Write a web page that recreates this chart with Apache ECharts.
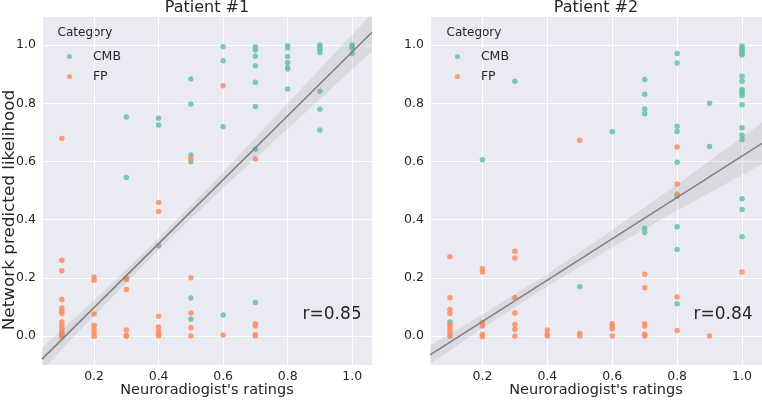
<!DOCTYPE html>
<html>
<head>
<meta charset="utf-8">
<script src="https://cdn.jsdelivr.net/npm/echarts@6/dist/echarts.min.js"></script>
<style>html,body{margin:0;padding:0;background:#fff;}#c{width:762px;height:400px;}</style>
</head>
<body>
<div id="c"></div>
<script>
// ---------- data ----------
const categories = ['CMB', 'FP'];
const panelTitles = ['Patient #1', 'Patient #2'];
const rLabels = ['r=0.85', 'r=0.84'];
const xLabel = "Neuroradiogist's ratings";
const yLabel = 'Network predicted likelihood';

const cmb1 = [
  [0.3,0.753],[0.3,0.545],
  [0.4,0.748],[0.4,0.725],[0.4,0.31],
  [0.5,0.883],[0.5,0.797],[0.5,0.622],[0.5,0.599],[0.5,0.13],[0.5,0.057],
  [0.6,0.994],[0.6,0.946],[0.6,0.719],[0.6,0.072],
  [0.7,0.994],[0.7,0.983],[0.7,0.962],[0.7,0.929],[0.7,0.872],[0.7,0.789],[0.7,0.642],[0.7,0.115],
  [0.8,0.998],[0.8,0.99],[0.8,0.961],[0.8,0.94],[0.8,0.923],[0.8,0.918],[0.8,0.849],
  [0.9,1.0],[0.9,0.994],[0.9,0.986],[0.9,0.974],[0.9,0.841],[0.9,0.779],[0.9,0.708],
  [1.0,1.0],[1.0,0.994],[1.0,0.989],[1.0,0.971]
];
const fp1 = [
  [0.1,0.679],[0.1,0.26],[0.1,0.224],[0.1,0.125],[0.1,0.096],[0.1,0.086],[0.1,0.077],[0.1,0.048],
  [0.1,0.037],[0.1,0.025],[0.1,0.014],[0.1,0.008],[0.1,0.002],[0.1,-0.003],
  [0.2,0.203],[0.2,0.191],[0.2,0.075],[0.2,0.037],[0.2,0.023],[0.2,0.01],[0.2,-0.001],
  [0.3,0.2],[0.3,0.194],[0.3,0.16],[0.3,0.02],[0.3,0.002],[0.3,-0.001],
  [0.4,0.459],[0.4,0.428],[0.4,0.068],[0.4,0.031],[0.4,0.017],[0.4,0.006],[0.4,0.0],
  [0.5,0.61],[0.5,0.2],[0.5,0.079],[0.5,0.028],[0.5,0.0],
  [0.6,0.86],[0.6,0.003],
  [0.7,0.608],[0.7,0.042],[0.7,0.034],[0.7,0.005],[0.7,0.0]
];
const cmb2 = [
  [0.1,0.048],
  [0.2,0.606],
  [0.3,0.876],
  [0.5,0.169],
  [0.6,0.702],
  [0.7,0.882],[0.7,0.831],[0.7,0.78],[0.7,0.764],[0.7,0.369],[0.7,0.356],
  [0.8,0.971],[0.8,0.938],[0.8,0.721],[0.8,0.703],[0.8,0.597],[0.8,0.48],[0.8,0.375],[0.8,0.297],[0.8,0.111],
  [0.9,0.80],[0.9,0.651],
  [1.0,0.997],[1.0,0.989],[1.0,0.983],[1.0,0.977],[1.0,0.971],[1.0,0.966],[1.0,0.893],[1.0,0.876],
  [1.0,0.847],[1.0,0.842],[1.0,0.834],[1.0,0.826],[1.0,0.795],[1.0,0.716],[1.0,0.69],[1.0,0.675],
  [1.0,0.472],[1.0,0.435],[1.0,0.341]
];
const fp2 = [
  [0.1,0.272],[0.1,0.131],[0.1,0.091],[0.1,0.077],[0.1,0.04],[0.1,0.031],[0.1,0.02],[0.1,0.01],[0.1,-0.001],
  [0.2,0.232],[0.2,0.22],[0.2,0.046],[0.2,0.034],[0.2,0.006],[0.2,-0.003],
  [0.3,0.291],[0.3,0.268],[0.3,0.131],[0.3,0.079],[0.3,0.039],[0.3,0.023],[0.3,-0.001],
  [0.4,0.02],[0.4,0.006],[0.4,0.0],
  [0.5,0.673],[0.5,0.008],[0.5,0.0],
  [0.6,0.042],[0.6,0.034],[0.6,0.025],[0.6,0.0],
  [0.7,0.212],[0.7,0.166],[0.7,0.042],[0.7,0.034],[0.7,0.006],[0.7,0.0],
  [0.8,0.65],[0.8,0.522],[0.8,0.487],[0.8,0.134],[0.8,0.019],
  [0.9,0.0],
  [1.0,0.22]
];
// regression lines and confidence bands [x, lower, upper]
const reg1 = [[0.0385,-0.08],[1.0615,1.044]];
const band1 = [[0.0385,-0.119,-0.041],[0.2,0.069,0.123],[0.4,0.296,0.336],[0.6,0.509,0.563],[0.8,0.712,0.80],[1.0,0.916,1.036],[1.0615,0.979,1.109]];
const reg2 = [[0.0385,-0.065],[1.0615,0.662]];
const band2 = [[0.0385,-0.097,-0.033],[0.2,0.026,0.074],[0.4,0.171,0.213],[0.6,0.304,0.364],[0.8,0.431,0.521],[1.0,0.553,0.683],[1.0615,0.590,0.734]];

const xRange = [0.0385, 1.0615];
const yRange = [-0.1, 1.1];

// ---------- style ----------
const FONT = 'DejaVu Sans';
const TXT = '#262626';
const C_CMB = '#66c2a5';
const C_FP = '#fc8d62';
const grids = [
  {left: 42, width: 330, top: 16, height: 349},
  {left: 430, width: 332, top: 16, height: 349}
];

function xAxis(i) {
  return {
    type: 'value', gridIndex: i, min: xRange[0], max: xRange[1], splitNumber: 5,
    axisLine: {show: false}, axisTick: {show: false},
    axisLabel: {color: TXT, fontFamily: FONT, fontSize: 12.5, margin: 5, showMinLabel: false, showMaxLabel: false,
      formatter: v => v.toFixed(1)},
    splitLine: {show: true, lineStyle: {color: '#ffffff', width: 1}},
    name: xLabel, nameLocation: 'middle', nameGap: 17, nameMoveOverlap: false,
    nameTextStyle: {color: TXT, fontFamily: FONT, fontSize: 14.5, verticalAlign: 'top', lineHeight: 16}
  };
}
function yAxis(i) {
  return {
    type: 'value', gridIndex: i, min: yRange[0], max: yRange[1], splitNumber: 5,
    axisLine: {show: false}, axisTick: {show: false},
    axisLabel: {color: TXT, fontFamily: FONT, fontSize: 12.5, margin: 6, showMinLabel: false, showMaxLabel: false,
      formatter: v => v.toFixed(1)},
    splitLine: {show: true, lineStyle: {color: '#ffffff', width: 1}}
  };
}
function scatter(name, data, i, color) {
  return {
    type: 'scatter', name: name, xAxisIndex: i, yAxisIndex: i, data: data,
    symbolSize: 5.5, itemStyle: {color: color, opacity: 0.85}, z: 2, silent: true
  };
}
function bandSeries(band, i) {
  return {
    type: 'custom', xAxisIndex: i, yAxisIndex: i, data: band, clip: true, z: 3, silent: true,
    renderItem: function (params, api) {
      if (params.dataIndex !== 0) return null;
      const pts = [];
      for (let k = 0; k < band.length; k++) pts.push(api.coord([band[k][0], band[k][2]]));
      for (let k = band.length - 1; k >= 0; k--) pts.push(api.coord([band[k][0], band[k][1]]));
      return {type: 'polygon', shape: {points: pts}, style: {fill: 'rgba(128,128,128,0.16)'}};
    }
  };
}
function regSeries(reg, i) {
  return {
    type: 'line', xAxisIndex: i, yAxisIndex: i, data: reg, showSymbol: false, clip: true, z: 4, silent: true,
    lineStyle: {color: '#808080', width: 1.6}
  };
}
function legend(left) {
  return {
    data: categories, left: left, top: 45, orient: 'vertical', icon: 'circle',
    itemWidth: 5, itemHeight: 5, itemGap: 7,
    formatter: n => '\u00a0\u00a0\u00a0\u00a0' + n,
    textStyle: {color: TXT, fontFamily: FONT, fontSize: 12.5}
  };
}
function text(x, y, s, size, extra) {
  return Object.assign({type: 'text', x: x, y: y, silent: true,
    style: {text: s, fill: TXT, font: size + 'px "' + FONT + '"', textAlign: 'center', textVerticalAlign: 'middle'}}, extra || {});
}

const option = {
  animation: false,
  backgroundColor: '#ffffff',
  grid: grids.map(g => Object.assign({show: true, backgroundColor: '#EAEAF2', borderWidth: 0, containLabel: false, outerBoundsMode: 'none'}, g)),
  xAxis: [xAxis(0), xAxis(1)],
  yAxis: [yAxis(0), yAxis(1)],
  legend: [legend(62), legend(450)],
  series: [
    scatter(categories[0], cmb1, 0, C_CMB), scatter(categories[1], fp1, 0, C_FP),
    scatter(categories[0], cmb2, 1, C_CMB), scatter(categories[1], fp2, 1, C_FP),
    bandSeries(band1, 0), regSeries(reg1, 0),
    bandSeries(band2, 1), regSeries(reg2, 1)
  ],
  graphic: [
    text(207, 8, panelTitles[0], 16),
    text(596, 8, panelTitles[1], 16),
    text(85, 33, 'Category', 12),
    text(474, 33, 'Category', 12),
    text(332, 315, rLabels[0], 17),
    text(723, 315, rLabels[1], 17),
    Object.assign(text(10, 210, yLabel, 15), {rotation: Math.PI / 2, scaleX: 1.12})
  ]
};
const chart = echarts.init(document.getElementById('c'), null, {renderer: 'canvas'});
chart.setOption(option);
</script>
</body>
</html>
